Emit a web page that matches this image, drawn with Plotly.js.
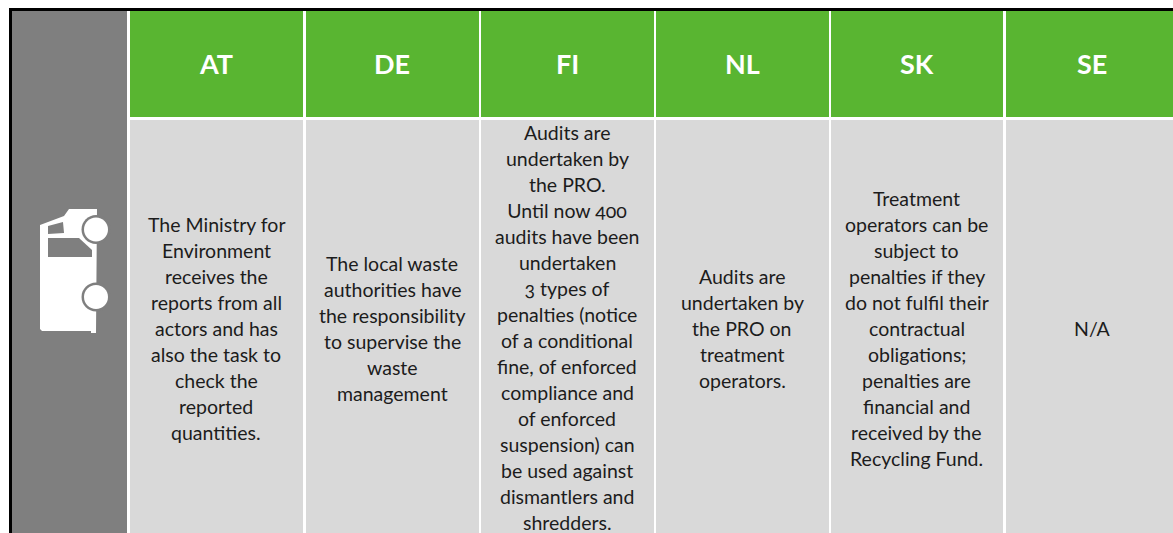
<!DOCTYPE html>
<html><head><meta charset="utf-8">
<script src="https://cdn.plot.ly/plotly-3.0.1.min.js"></script>
<style>html,body{margin:0;padding:0;background:#fff;overflow:hidden}
#c text{font-feature-settings:"onum" 1;}</style></head>
<body><div id="c" style="width:1173px;height:533px"></div>
<script>
const categories=["AT","DE","FI","NL","SK","SE"];
const columnEdges=[[130,303],[306,479],[481,654],[656,829],[831,1003],[1006,1179]];
const cellLines=[
 ["The Ministry for","Environment","receives the","reports from all","actors and has","also the task to","check the","reported","quantities."],
 ["The local waste","authorities have","the responsibility","to supervise the","waste","management"],
 ["Audits are","undertaken by","the PRO.","Until now 400","audits have been","undertaken","3 types of","penalties (notice","of a conditional","fine, of enforced","compliance and","of enforced","suspension) can","be used against","dismantlers and","shredders."],
 ["Audits are","undertaken by","the PRO on","treatment","operators."],
 ["Treatment","operators can be","subject to","penalties if they","do not fulfil their","contractual","obligations;","penalties are","financial and","received by the","Recycling Fund."],
 ["N/A"]
];
const GREEN="#59b531",GREY="#7f7f7f",BODY="#d9d9d9",INK="#1c1c1c";
const FONT="Lato";
const shapes=[];const annotations=[];
const rect=(x0,x1,y0,y1,c)=>shapes.push({type:"rect",xref:"x",yref:"y",x0,x1,y0,y1,fillcolor:c,line:{width:0},layer:"below"});
rect(9,1179,8,533,"#000000");
rect(12,1179,11,533,"#ffffff");
rect(12,127,11,533,GREY);
categories.forEach((cat,i)=>{
  const [a,b]=columnEdges[i],m=(a+b)/2;
  rect(a,b,11,117,GREEN);
  rect(a,b,120,533,BODY);
  annotations.push({x:m-0.5,y:63,xref:"x",yref:"y",text:cat,showarrow:false,xanchor:"center",yanchor:"middle",font:{family:FONT,size:27,color:"#ffffff",weight:700}});
  const lines=cellLines[i],step=26,mid=i==2?327:328;
  lines.forEach((t,k)=>annotations.push({x:m-0.5,y:mid+(k-(lines.length-1)/2)*step,xref:"x",yref:"y",text:t,showarrow:false,xanchor:"center",yanchor:"middle",font:{family:FONT,size:19.5,color:INK}}));
});
const iconPath=(d,c)=>shapes.push({type:"path",xref:"x",yref:"y",path:d,fillcolor:c,line:{width:0},layer:"above"});
const K=0.5523;
const circ=(cx,cy,r)=>{const q=K*r;return `M${cx-r},${cy}C${cx-r},${cy-q} ${cx-q},${cy-r} ${cx},${cy-r}C${cx+q},${cy-r} ${cx+r},${cy-q} ${cx+r},${cy}C${cx+r},${cy+q} ${cx+q},${cy+r} ${cx},${cy+r}C${cx-q},${cy+r} ${cx-r},${cy+q} ${cx-r},${cy}Z`;};
iconPath("M40,225L64,216L69,209L97,209L96,333L91,333L91,331L42,331L40,329Z","#ffffff");
iconPath("M48,226L63,222L64,233L48,234Z",GREY);
iconPath("M48,238L79,238L92,250L92,257L48,257Z",GREY);
iconPath(circ(96,229.5,14.5),GREY);iconPath(circ(96,229.5,12),"#ffffff");
iconPath(circ(96,297,14.5),GREY);iconPath(circ(96,297,12),"#ffffff");
Plotly.newPlot("c",[],{
  width:1173,height:533,margin:{l:0,r:0,t:0,b:0},paper_bgcolor:"#fff",plot_bgcolor:"#fff",showlegend:false,
  xaxis:{range:[0,1173],visible:false,fixedrange:true},
  yaxis:{range:[533,0],visible:false,fixedrange:true},
  shapes,annotations
},{displayModeBar:false,staticPlot:true});
</script></body></html>
